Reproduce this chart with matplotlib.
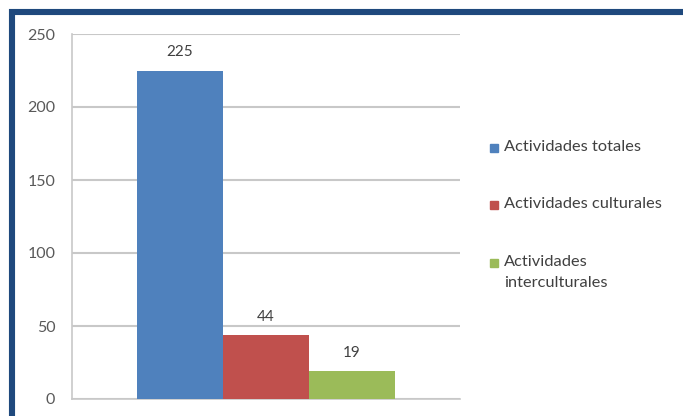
import matplotlib.pyplot as plt
from matplotlib.patches import Rectangle

plt.rcParams['font.family'] = ['Lato', 'DejaVu Sans']

# series shown as one group of three bars
series = ['Actividades totales', 'Actividades culturales', 'Actividades\ninterculturales']
values = [225, 44, 19]
colors = ['#4F81BD', '#C0504D', '#9BBB59']
yticks = [0, 50, 100, 150, 200, 250]

fig = plt.figure(figsize=(6.83, 4.16), dpi=100)
ax = fig.add_axes([72 / 683, 17 / 416, 388 / 683, 365 / 416])

offsets = [-1, 0, 1]
bars = ax.bar(offsets, values, width=1.0, color=colors, zorder=3)
for b, v in zip(bars, values):
    ax.annotate(str(v), (b.get_x() + b.get_width() / 2, v), xytext=(0, 8),
                textcoords='offset points', ha='center', va='bottom',
                fontsize=11, color='#404040')

ax.set_xlim(-2.256, 2.256)
ax.set_ylim(0, 250)
ax.set_yticks(yticks)
ax.set_xticks([])
ax.tick_params(axis='y', length=0, pad=12, labelsize=11.5, labelcolor='#595959')
ax.grid(axis='y', color='#C8C8C8', linewidth=1.5, zorder=0)
for s in ['top', 'right']:
    ax.spines[s].set_visible(False)
for s in ['left', 'bottom']:
    ax.spines[s].set_color('#C8C8C8')
    ax.spines[s].set_linewidth(1.2)

# legend drawn by hand to the right of the plot
leg_y = [148, 205, 263]
for lab, c, y in zip(series, colors, leg_y):
    fig.add_artist(Rectangle((490 / 683, 1 - (y + 4) / 416), 8 / 683, 8 / 416,
                             transform=fig.transFigure, color=c))
    fig.text(504 / 683, 1 - (y - 8) / 416, lab, fontsize=11.8, color='#404040',
             va='top', ha='left', linespacing=1.6)

# dark blue frame around the chart
fig.add_artist(Rectangle((12 / 683, -0.2), 1.2, 1 - 12 / 416 + 0.2,
                         transform=fig.transFigure, fill=False,
                         edgecolor='#1F497D', linewidth=4.4))

fig.savefig('out.png', dpi=100)
